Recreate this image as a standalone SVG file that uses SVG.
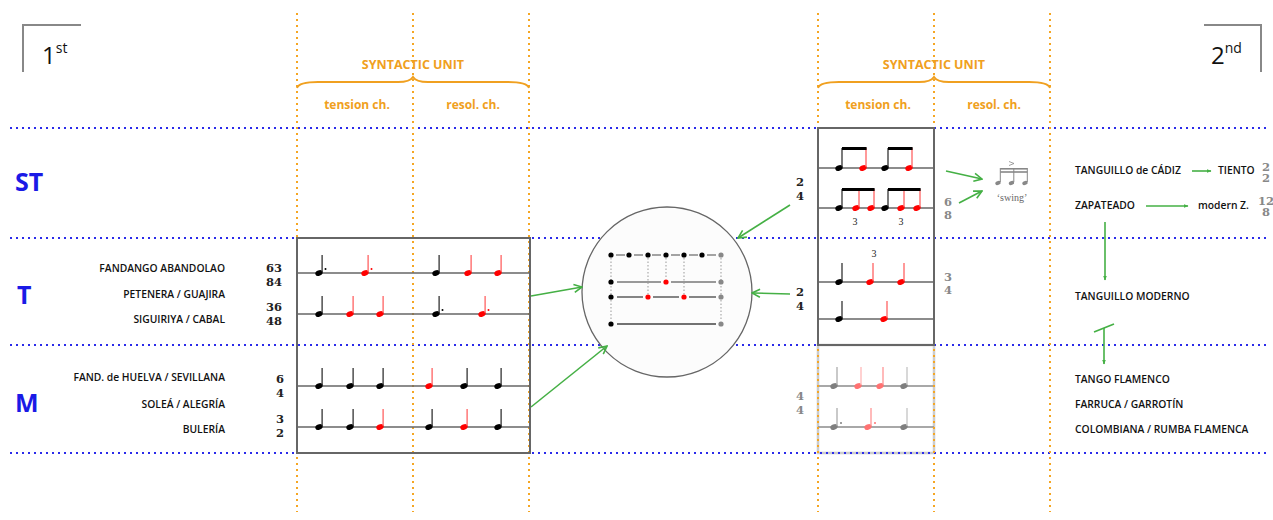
<svg xmlns="http://www.w3.org/2000/svg" width="1273" height="520" viewBox="0 0 1273 520">
<style>
.gd{stroke:#f5a623;stroke-width:2;stroke-dasharray:2 4;fill:none}
.bl{stroke:#2b2bea;stroke-width:2;stroke-dasharray:2 4;fill:none}
.box{fill:none;stroke:#666;stroke-width:2}
.staff{stroke:#666;stroke-width:1.6}
.sk{stroke:#222;stroke-width:1.2}
.sr{stroke:#f55;stroke-width:1.2}
.lbl{font-family:"Open Sans",sans-serif;font-weight:600;font-size:10.3px;fill:#111}
.ts{font-family:"DejaVu Serif",serif;font-weight:bold;font-size:11.5px;fill:#222;text-anchor:middle}
.tsg{fill:#888}
.or{font-family:"Open Sans",sans-serif;fill:#f0a020;text-anchor:middle;font-weight:700}
.row{font-family:"Noto Sans",sans-serif;font-weight:700;font-size:25px;fill:#1a1ae6}
.gr{stroke:#45b045;stroke-width:1.6;fill:none}
.brk{stroke:#888;stroke-width:2;fill:none}
</style>
<defs>
<ellipse id="hk" rx="3.8" ry="2.7" transform="rotate(-22)" fill="#000"/>
<ellipse id="hr" rx="3.8" ry="2.7" transform="rotate(-22)" fill="#f00"/>
<g id="qk"><use href="#hk"/><line class="sk" x1="3.1" y1="-1" x2="3.1" y2="-18"/></g>
<g id="qr"><use href="#hr"/><line class="sr" x1="3.1" y1="-1" x2="3.1" y2="-18"/></g>
<marker id="ch" viewBox="0 0 10 10" refX="9" refY="5" markerWidth="10" markerHeight="10" markerUnits="userSpaceOnUse" orient="auto"><path d="M1,1 L9,5 L1,9" fill="none" stroke="#45b045" stroke-width="1.6"/></marker>
<marker id="tri" viewBox="0 0 10 10" refX="9" refY="5" markerWidth="5" markerHeight="5" markerUnits="userSpaceOnUse" orient="auto"><path d="M0,1 L10,5 L0,9 Z" fill="#45b045"/></marker>
</defs>

<!-- faded lower right box (drawn under guides) -->
<g id="faded" opacity="0.75">
<rect x="818" y="345" width="116" height="108" fill="none" stroke="#bbb" stroke-width="2.5"/>
<line class="staff" x1="818" y1="386" x2="934" y2="386"/>
<line class="staff" x1="818" y1="427" x2="934" y2="427"/>
<g fill="#555">
<ellipse cx="834" cy="386" rx="3.8" ry="2.7" transform="rotate(-22 834 386)"/>
<ellipse cx="904" cy="386" rx="3.8" ry="2.7" transform="rotate(-22 904 386)"/>
<ellipse cx="834" cy="427" rx="3.8" ry="2.7" transform="rotate(-22 834 427)"/>
<ellipse cx="904" cy="427" rx="3.8" ry="2.7" transform="rotate(-22 904 427)"/>
<circle cx="841" cy="423" r="1"/>
</g>
<g fill="#f44">
<ellipse cx="858" cy="386" rx="3.8" ry="2.7" transform="rotate(-22 858 386)"/>
<ellipse cx="880" cy="386" rx="3.8" ry="2.7" transform="rotate(-22 880 386)"/>
<ellipse cx="868" cy="427" rx="3.8" ry="2.7" transform="rotate(-22 868 427)"/>
<circle cx="875" cy="423" r="1"/>
</g>
<g stroke-width="1.2">
<line x1="837" y1="385" x2="837" y2="367" stroke="#888"/>
<line x1="861" y1="385" x2="861" y2="367" stroke="#f99"/>
<line x1="883" y1="385" x2="883" y2="367" stroke="#f66"/>
<line x1="907" y1="385" x2="907" y2="367" stroke="#aaa"/>
<line x1="837" y1="426" x2="837" y2="408" stroke="#888"/>
<line x1="871" y1="426" x2="871" y2="408" stroke="#f66"/>
<line x1="907" y1="426" x2="907" y2="408" stroke="#aaa"/>
</g>
</g>

<!-- guides -->
<g id="guides">
<line class="bl" x1="10" y1="128" x2="1270" y2="128"/>
<line class="bl" x1="10" y1="238" x2="1270" y2="238"/>
<line class="bl" x1="10" y1="345" x2="1270" y2="345"/>
<line class="bl" x1="10" y1="453" x2="1270" y2="453"/>
<line class="gd" x1="297" y1="13" x2="297" y2="512"/>
<line class="gd" x1="413" y1="13" x2="413" y2="512"/>
<line class="gd" x1="529" y1="13" x2="529" y2="512"/>
<line class="gd" x1="818" y1="13" x2="818" y2="512"/>
<line class="gd" x1="934" y1="13" x2="934" y2="512"/>
<line class="gd" x1="1050" y1="13" x2="1050" y2="512"/>
</g>

<!-- corner marks -->
<g id="first">
<path class="brk" d="M23,72 V25 H81"/>
<text x="42" y="64" font-family="Open Sans,sans-serif" font-size="24" fill="#111">1<tspan font-size="14" dy="-11">st</tspan></text>
</g>
<g id="second">
<path class="brk" d="M1204,25 H1261 V72"/>
<text x="1211" y="64" font-family="Open Sans,sans-serif" font-size="24" fill="#111">2<tspan font-size="14" dy="-11">nd</tspan></text>
</g>

<!-- headers -->
<g id="su1">
<text class="or" x="413" y="69" font-size="12.5">SYNTACTIC UNIT</text>
<path d="M297,88 Q299,82 318,82 L398,82 Q410,82 413,77 Q416,82 428,82 L508,82 Q527,82 529,88" fill="none" stroke="#f0a020" stroke-width="2"/>
<text class="or" x="357" y="109" font-size="12" font-weight="600">tension ch.</text>
<text class="or" x="473" y="109" font-size="12" font-weight="600">resol. ch.</text>
</g>
<g id="su2">
<text class="or" x="934" y="69" font-size="12.5">SYNTACTIC UNIT</text>
<path d="M818,88 Q820,82 839,82 L919,82 Q931,82 934,77 Q937,82 949,82 L1029,82 Q1048,82 1050,88" fill="none" stroke="#f0a020" stroke-width="2"/>
<text class="or" x="878" y="109" font-size="12" font-weight="600">tension ch.</text>
<text class="or" x="994" y="109" font-size="12" font-weight="600">resol. ch.</text>
</g>

<!-- row labels -->
<g id="rows">
<text class="row" x="15" y="191">ST</text>
<text class="row" x="17" y="304">T</text>
<text class="row" x="15" y="412">M</text>
</g>

<!-- left labels -->
<g id="leftlabels" text-anchor="end">
<text class="lbl" x="225" y="272">FANDANGO ABANDOLAO</text>
<text class="lbl" x="225" y="298">PETENERA / GUAJIRA</text>
<text class="lbl" x="225" y="323">SIGUIRIYA / CABAL</text>
<text class="lbl" x="225" y="381">FAND. de HUELVA / SEVILLANA</text>
<text class="lbl" x="225" y="408">SOLEÁ / ALEGRÍA</text>
<text class="lbl" x="225" y="433">BULERÍA</text>
</g>
<g id="leftts">
<text class="ts" x="274" y="272">63</text>
<text class="ts" x="274" y="285.5">84</text>
<text class="ts" x="274" y="311">36</text>
<text class="ts" x="274" y="324.5">48</text>
<text class="ts" x="280" y="383" font-size="12">6</text>
<text class="ts" x="280" y="397" font-size="12">4</text>
<text class="ts" x="280" y="423" font-size="12">3</text>
<text class="ts" x="280" y="437" font-size="12">2</text>
</g>

<!-- left box -->
<g id="leftbox">
<rect class="box" x="297" y="238" width="233" height="215"/>
<line class="staff" x1="297" y1="273" x2="530" y2="273"/>
<line class="staff" x1="297" y1="314" x2="530" y2="314"/>
<line class="staff" x1="297" y1="386" x2="530" y2="386"/>
<line class="staff" x1="297" y1="427" x2="530" y2="427"/>
<use href="#qk" x="319" y="273"/><circle cx="325.5" cy="269" r="1" fill="#000"/>
<use href="#qr" x="365" y="273"/><circle cx="371.5" cy="269" r="1" fill="#f00"/>
<use href="#qk" x="436" y="273"/>
<use href="#qr" x="468" y="273"/>
<use href="#qr" x="498" y="273"/>
<use href="#qk" x="319" y="314"/>
<use href="#qr" x="350" y="314"/>
<use href="#qr" x="380" y="314"/>
<use href="#qk" x="436" y="314"/><circle cx="442.5" cy="310" r="1" fill="#000"/>
<use href="#qr" x="482" y="314"/><circle cx="488.5" cy="310" r="1" fill="#f00"/>
<use href="#qk" x="319" y="386"/>
<use href="#qk" x="350" y="386"/>
<use href="#qk" x="380" y="386"/>
<use href="#qr" x="429" y="386"/>
<use href="#qk" x="464" y="386"/>
<use href="#qk" x="498" y="386"/>
<use href="#qk" x="319" y="427"/>
<use href="#qk" x="350" y="427"/>
<use href="#qr" x="380" y="427"/>
<use href="#qk" x="429" y="427"/>
<use href="#qr" x="464" y="427"/>
<use href="#qk" x="498" y="427"/>
</g>

<!-- circle -->
<g id="circle">
<circle cx="667" cy="292" r="85" fill="#fcfcfc" stroke="#666" stroke-width="1.3"/>
<g stroke="#999" stroke-width="1" stroke-dasharray="1.5 2">
<line x1="611" y1="258" x2="611" y2="321"/>
<line x1="648" y1="258" x2="648" y2="294"/>
<line x1="666" y1="258" x2="666" y2="279"/>
<line x1="684" y1="258" x2="684" y2="294"/>
<line x1="721" y1="258" x2="721" y2="321"/>
</g>
<g stroke="#999" stroke-width="1.8">
<line x1="616" y1="255" x2="625" y2="255"/>
<line x1="634" y1="255" x2="643" y2="255"/>
<line x1="652" y1="255" x2="661" y2="255"/>
<line x1="671" y1="255" x2="680" y2="255"/>
<line x1="689" y1="255" x2="698" y2="255"/>
<line x1="707" y1="255" x2="716" y2="255"/>
<line x1="617" y1="282" x2="661" y2="282"/>
<line x1="671" y1="282" x2="716" y2="282"/>
</g>
<g stroke="#444" stroke-width="1.3">
<line x1="617" y1="297" x2="643" y2="297"/>
<line x1="653" y1="297" x2="679" y2="297"/>
<line x1="689" y1="297" x2="716" y2="297"/>
<line x1="617" y1="324" x2="716" y2="324"/>
</g>
<g fill="#000">
<circle cx="611" cy="255" r="2.6"/><circle cx="629" cy="255" r="2.6"/><circle cx="648" cy="255" r="2.6"/>
<circle cx="666" cy="255" r="2.6"/><circle cx="684" cy="255" r="2.6"/><circle cx="702" cy="255" r="2.6"/>
<circle cx="611" cy="282" r="2.6"/><circle cx="611" cy="297" r="2.6"/><circle cx="611" cy="324" r="2.6"/>
</g>
<g fill="#f00">
<circle cx="666" cy="282" r="2.6"/><circle cx="648" cy="297" r="2.6"/><circle cx="684" cy="297" r="2.6"/>
</g>
<g fill="#888">
<circle cx="721" cy="255" r="2.6"/><circle cx="721" cy="282" r="2.6"/><circle cx="721" cy="297" r="2.6"/><circle cx="721" cy="324" r="2.6"/>
</g>
</g>

<!-- right box -->
<g id="rightbox">
<rect class="box" x="818" y="128" width="116" height="217"/>
<line class="staff" x1="818" y1="168" x2="934" y2="168"/>
<line class="staff" x1="818" y1="208" x2="934" y2="208"/>
<line class="staff" x1="818" y1="282" x2="934" y2="282"/>
<line class="staff" x1="818" y1="319" x2="934" y2="319"/>
<use href="#hk" x="839" y="168"/><use href="#hr" x="863" y="168"/>
<use href="#hk" x="885" y="168"/><use href="#hr" x="909" y="168"/>
<line class="sk" x1="842" y1="167" x2="842" y2="148"/><line class="sr" x1="866" y1="167" x2="866" y2="148"/>
<line class="sk" x1="888" y1="167" x2="888" y2="148"/><line class="sr" x1="912" y1="167" x2="912" y2="148"/>
<rect x="842" y="147" width="24.6" height="3" fill="#000"/>
<rect x="888" y="147" width="24.6" height="3" fill="#000"/>
<use href="#hk" x="839" y="208"/><use href="#hr" x="856" y="208"/><use href="#hr" x="871" y="208"/>
<use href="#hk" x="885" y="208"/><use href="#hr" x="901" y="208"/><use href="#hr" x="917" y="208"/>
<line class="sk" x1="842" y1="207" x2="842" y2="189"/><line class="sr" x1="859" y1="207" x2="859" y2="189"/><line class="sr" x1="874" y1="207" x2="874" y2="189"/>
<line class="sk" x1="888" y1="207" x2="888" y2="189"/><line class="sr" x1="904" y1="207" x2="904" y2="189"/><line class="sr" x1="920" y1="207" x2="920" y2="189"/>
<rect x="842" y="188" width="32.6" height="3" fill="#000"/>
<rect x="888" y="188" width="32.6" height="3" fill="#000"/>
<text x="855" y="225" font-family="Liberation Serif,serif" font-size="10" fill="#222" text-anchor="middle">3</text>
<text x="901" y="225" font-family="Liberation Serif,serif" font-size="10" fill="#222" text-anchor="middle">3</text>
<text x="874" y="257" font-family="Liberation Serif,serif" font-size="10" fill="#222" text-anchor="middle">3</text>
<use href="#hk" x="839" y="282"/><use href="#hr" x="870" y="282"/><use href="#hr" x="901" y="282"/>
<line class="sk" x1="842" y1="281" x2="842" y2="263"/><line class="sr" x1="873" y1="281" x2="873" y2="263"/><line class="sr" x1="904" y1="281" x2="904" y2="263"/>
<use href="#hk" x="839" y="319"/><use href="#hr" x="884" y="319"/>
<line class="sk" x1="842" y1="318" x2="842" y2="301"/><line class="sr" x1="887" y1="318" x2="887" y2="301"/>
</g>
<g id="rightts">
<text class="ts" x="800" y="186">2</text>
<text class="ts" x="800" y="199.5">4</text>
<text class="ts" x="800" y="296">2</text>
<text class="ts" x="800" y="309.5">4</text>
<text class="ts tsg" x="800" y="400">4</text>
<text class="ts tsg" x="800" y="413.5">4</text>
<text class="ts tsg" x="948" y="206" font-size="11">6</text>
<text class="ts tsg" x="948" y="219" font-size="11">8</text>
<text class="ts tsg" x="948" y="281" font-size="11">3</text>
<text class="ts tsg" x="948" y="294" font-size="11">4</text>
</g>

<!-- swing -->
<g id="swing" fill="#888" stroke="#888">
<ellipse cx="998" cy="183" rx="2.8" ry="2" transform="rotate(-22 998 183)" stroke="none"/>
<ellipse cx="1011.5" cy="183" rx="2.8" ry="2" transform="rotate(-22 1011.5 183)" stroke="none"/>
<ellipse cx="1025" cy="183" rx="2.8" ry="2" transform="rotate(-22 1025 183)" stroke="none"/>
<line x1="1000.3" y1="182" x2="1000.3" y2="168" stroke-width="1"/>
<line x1="1013.8" y1="182" x2="1013.8" y2="168" stroke-width="1"/>
<line x1="1027.3" y1="182" x2="1027.3" y2="168" stroke-width="1"/>
<line x1="1000.3" y1="168.8" x2="1027.3" y2="168.8" stroke-width="1.6"/>
<line x1="1000.3" y1="172" x2="1027.3" y2="172" stroke-width="1.6"/>
<path d="M1009,161.5 L1014,163.5 L1009,165.5" fill="none" stroke-width="0.8"/>
<text x="1012" y="201" font-family="Liberation Serif,serif" font-size="10" fill="#666" stroke="none" text-anchor="middle">‘swing’</text>
</g>

<!-- right labels -->
<g id="rightlabels">
<text class="lbl" x="1075" y="174">TANGUILLO de CÁDIZ</text>
<text class="lbl" x="1218" y="174">TIENTO</text>
<text class="lbl" x="1075" y="209">ZAPATEADO</text>
<text class="lbl" x="1198" y="209">modern Z.</text>
<text class="lbl" x="1075" y="300">TANGUILLO MODERNO</text>
<text class="lbl" x="1075" y="383">TANGO FLAMENCO</text>
<text class="lbl" x="1075" y="408">FARRUCA / GARROTÍN</text>
<text class="lbl" x="1075" y="433">COLOMBIANA / RUMBA FLAMENCA</text>
<text class="ts tsg" x="1266" y="170.5" font-size="9.5">2</text>
<text class="ts tsg" x="1266" y="182" font-size="9.5">2</text>
<text class="ts tsg" x="1266" y="204.5" font-size="9.5">12</text>
<text class="ts tsg" x="1266" y="216" font-size="9.5">8</text>
</g>

<!-- connectors -->
<g id="connectors">
<line class="gr" x1="531" y1="296" x2="582" y2="287" marker-end="url(#ch)"/>
<line class="gr" x1="531" y1="407" x2="607" y2="346" marker-end="url(#ch)"/>
<line class="gr" x1="790" y1="205" x2="738" y2="238" marker-end="url(#ch)"/>
<line class="gr" x1="790" y1="294" x2="752" y2="293" marker-end="url(#ch)"/>
<line class="gr" x1="946" y1="171" x2="982" y2="179" marker-end="url(#ch)"/>
<line class="gr" x1="959" y1="203" x2="982" y2="191" marker-end="url(#ch)"/>
<line class="gr" x1="1192" y1="171" x2="1211" y2="171" marker-end="url(#tri)"/>
<line class="gr" x1="1146" y1="206" x2="1188" y2="206" marker-end="url(#tri)"/>
<line class="gr" x1="1105" y1="222" x2="1105" y2="280" marker-end="url(#tri)"/>
<line class="gr" x1="1094" y1="332" x2="1114" y2="324"/>
<line class="gr" x1="1104" y1="328" x2="1104" y2="364" marker-end="url(#tri)"/>
</g>
</svg>
